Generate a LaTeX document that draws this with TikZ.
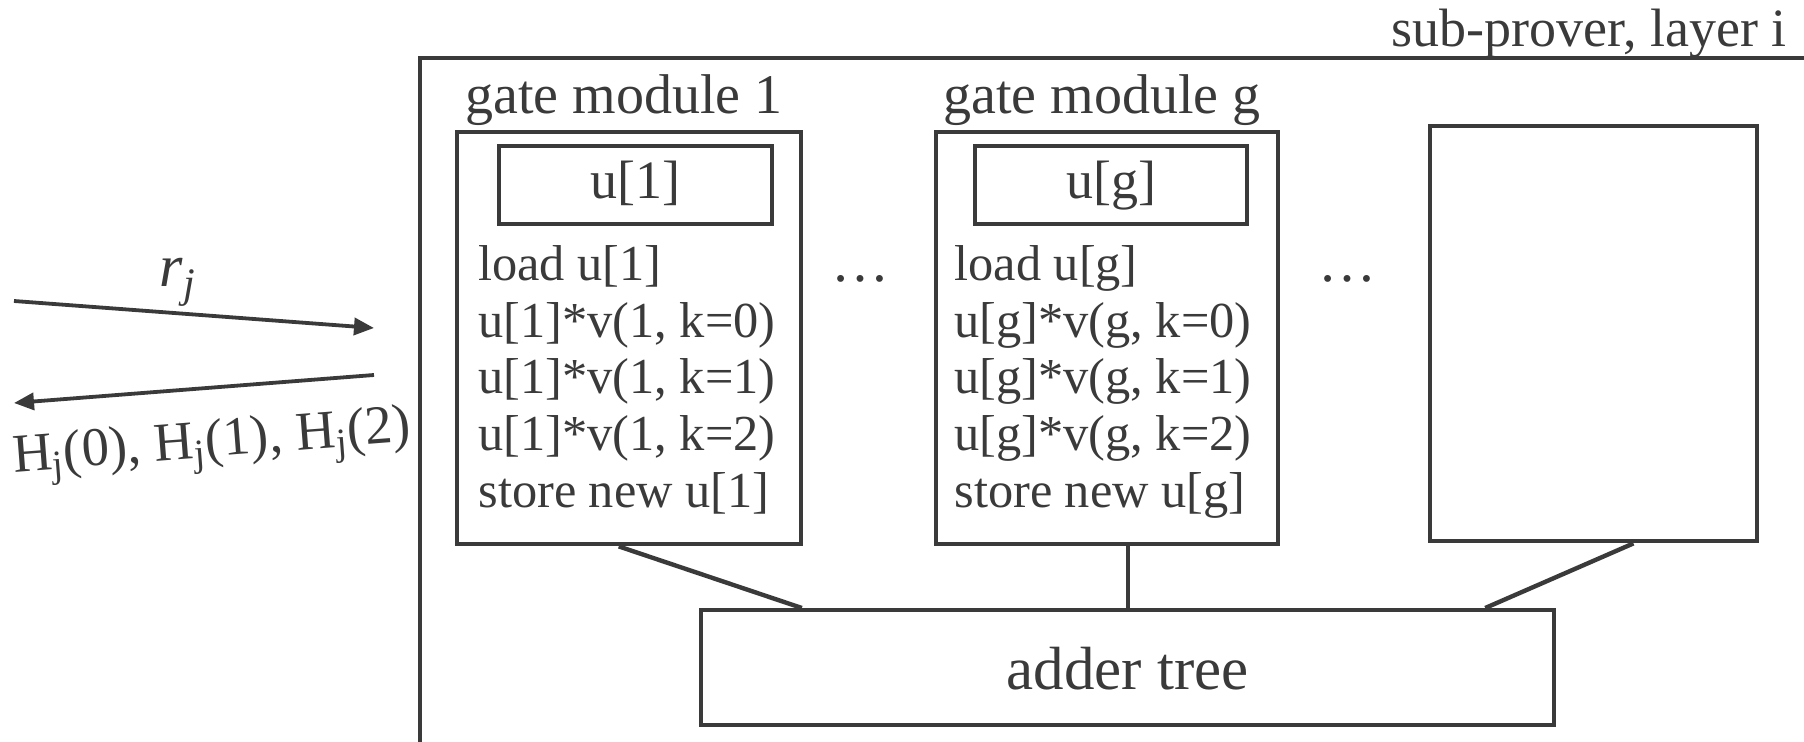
\documentclass[tikz,border=0pt]{standalone}
\usepackage{fontspec}
\setmainfont{Liberation Serif}
\usetikzlibrary{arrows.meta,calc}
\definecolor{ink}{HTML}{3A3A3A}
\begin{document}
\begin{tikzpicture}[x=0.5pt,y=-0.5pt,
  every node/.style={text=ink},
  txt/.style={font=\fontsize{27}{29}\selectfont, inner sep=0pt},
  codetxt/.style={font=\fontsize{25.2}{27}\selectfont, inner sep=0pt},
  bigtxt/.style={font=\fontsize{30.5}{32}\selectfont, inner sep=0pt},
  box/.style={draw=ink, line width=2.2pt, inner sep=0pt, anchor=north west},
  wire/.style={draw=ink, line width=2.2pt},
  msg/.style={draw=ink, line width=1.9pt, -{Triangle[length=10pt,width=8.5pt]}},
  codeline/.style={codetxt, anchor=base west}]
\useasboundingbox (0,0) rectangle (1804,742);

% enclosing sub-prover frame (open to the right and bottom)
\draw[wire] (420,760) -- (420,58) -- (1820,58);
\node[txt, anchor=base east] (title) at (1787,47) {sub-prover, layer i};

% gate module 1
\node[txt, font=\fontsize{28}{30}\selectfont, anchor=base] (lab1) at (624,114) {gate module 1};
\node[box, minimum width=172pt, minimum height=206pt] (gm1) at (455,130) {};
\node[box, minimum width=136.5pt, minimum height=39pt] (u1) at (497,144) {};
\node[txt, anchor=base] (u1t) at ($(u1.center)+(0,13)$) {u[1]};
\node[codeline] (a1) at (478,281) {load u[1]};
\node[codeline] (a2) at (478,338) {u[1]*v(1, k=0)};
\node[codeline] (a3) at (478,394) {u[1]*v(1, k=1)};
\node[codeline] (a4) at (478,451) {u[1]*v(1, k=2)};
\node[codeline] (a5) at (478,508) {store new u[1]};

% gate module g
\node[txt, font=\fontsize{28}{30}\selectfont, anchor=base] (labg) at (1102,114) {gate module g};
\node[box, minimum width=171pt, minimum height=206pt] (gmg) at (934,130) {};
\node[box, minimum width=136pt, minimum height=39pt] (ug) at (973,144) {};
\node[txt, anchor=base] (ugt) at ($(ug.center)+(0,13)$) {u[g]};
\node[codeline] (b1) at (954,281) {load u[g]};
\node[codeline] (b2) at (954,338) {u[g]*v(g, k=0)};
\node[codeline] (b3) at (954,394) {u[g]*v(g, k=1)};
\node[codeline] (b4) at (954,451) {u[g]*v(g, k=2)};
\node[codeline] (b5) at (954,508) {store new u[g]};

% ellipses between modules
\node[txt, font=\fontsize{29}{30}\selectfont, anchor=base] (dots1) at (860,282) {…};
\node[txt, font=\fontsize{29}{30}\selectfont, anchor=base] (dots2) at (1347,282) {…};

% last (empty) module
\node[box, minimum width=163.5pt, minimum height=207.5pt] (rb) at (1428,124) {};

% adder tree
\node[box, minimum width=426.5pt, minimum height=57.5pt] (add) at (699,608) {};
\node[bigtxt, anchor=base] (addt) at ($(add.center)+(0,22)$) {adder tree};

% wires into the adder tree
\draw[wire] ($(gm1.south west)!0.47!(gm1.south east)$) -- ($(add.north west)!0.12!(add.north east)$);
\draw[wire] (add.north) -- (add.north |- gmg.south);
\draw[wire] ($(rb.south west)!0.62!(rb.south east)$) -- ($(add.north west)!0.917!(add.north east)$);

% messages to and from the verifier
\coordinate (inL) at (14,301);
\coordinate (inR) at (374,328);
\coordinate (outR) at (374,375);
\coordinate (outL) at (14,403);
\draw[msg] (inL) -- (inR);
\draw[msg] (outR) -- (outL);
\node[txt, font=\fontsize{30}{32}\selectfont, anchor=base] (rj) at (178,287) {\textit{r}\textsubscript{\textit{j}}};
\node[txt, font=\fontsize{27.3}{29}\selectfont, rotate=4.4] (hj) at (212,446) {H\textsubscript{j}(0), H\textsubscript{j}(1), H\textsubscript{j}(2)};
\end{tikzpicture}
\end{document}
